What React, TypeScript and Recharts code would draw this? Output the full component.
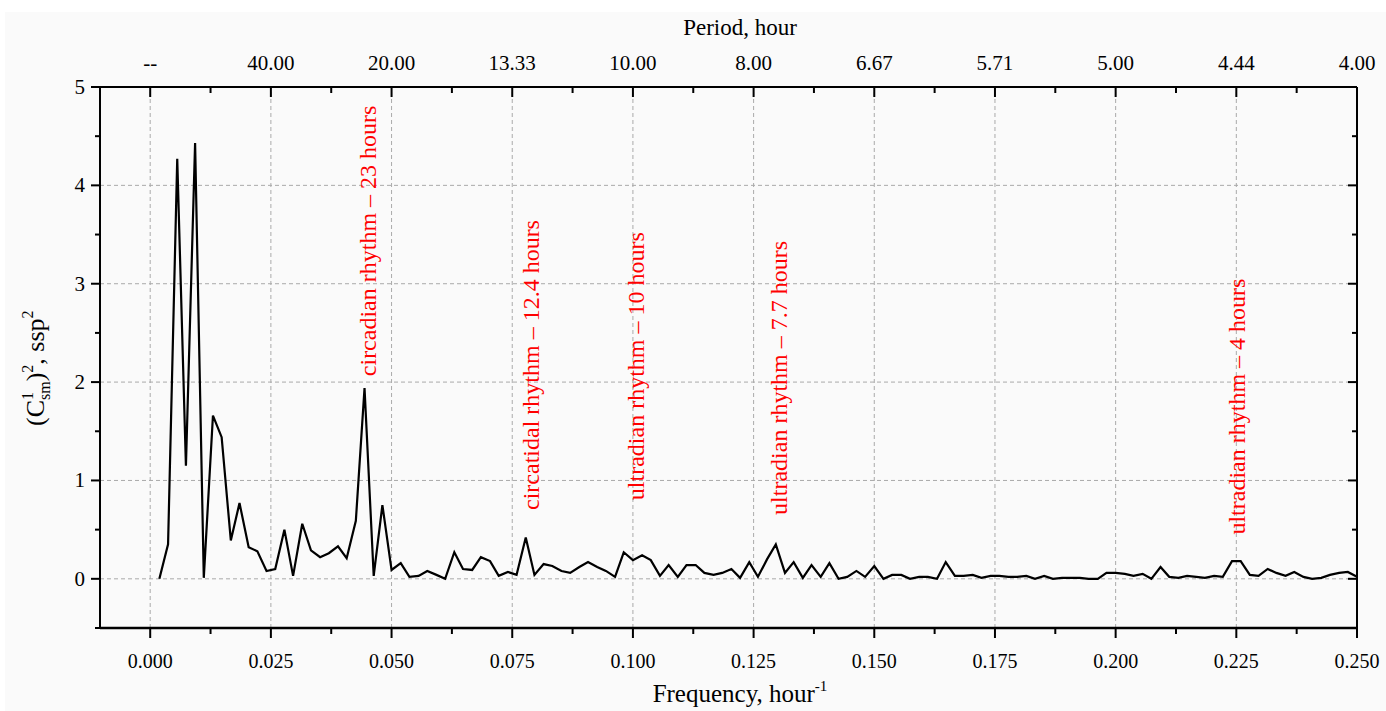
import {
  LineChart,
  Line,
  XAxis,
  YAxis,
  ReferenceLine,
  ReferenceDot,
} from "recharts";

const FONT = "'Liberation Serif', 'Times New Roman', serif";

// frequency, hour^-1 (sample grid of the spectrum)
const freq = [
  0.0019, 0.0037, 0.0056, 0.0074, 0.0093, 0.0111, 0.013, 0.0148, 0.0167, 0.0185,
  0.0204, 0.0222, 0.0241, 0.0259, 0.0278, 0.0296, 0.0315, 0.0333, 0.0352, 0.037,
  0.0389, 0.0407, 0.0426, 0.0444, 0.0463, 0.0481, 0.05, 0.0519, 0.0537, 0.0556,
  0.0574, 0.0593, 0.0611, 0.063, 0.0648, 0.0667, 0.0685, 0.0704, 0.0722, 0.0741,
  0.0759, 0.0778, 0.0796, 0.0815, 0.0833, 0.0852, 0.087, 0.0889, 0.0907, 0.0926,
  0.0944, 0.0963, 0.0981, 0.1, 0.1019, 0.1037, 0.1056, 0.1074, 0.1093, 0.1111,
  0.113, 0.1148, 0.1167, 0.1185, 0.1204, 0.1222, 0.1241, 0.1259, 0.1278, 0.1296,
  0.1315, 0.1333, 0.1352, 0.137, 0.1389, 0.1407, 0.1426, 0.1444, 0.1463, 0.1481,
  0.15, 0.1519, 0.1537, 0.1556, 0.1574, 0.1593, 0.1611, 0.163, 0.1648, 0.1667,
  0.1685, 0.1704, 0.1722, 0.1741, 0.1759, 0.1778, 0.1796, 0.1815, 0.1833, 0.1852,
  0.187, 0.1889, 0.1907, 0.1926, 0.1944, 0.1963, 0.1981, 0.2, 0.2019, 0.2037,
  0.2056, 0.2074, 0.2093, 0.2111, 0.213, 0.2148, 0.2167, 0.2185, 0.2204, 0.2222,
  0.2241, 0.2259, 0.2278, 0.2296, 0.2315, 0.2333, 0.2352, 0.237, 0.2389, 0.2407,
  0.2426, 0.2444, 0.2463, 0.2481, 0.25,
];

// (C1sm)^2, ssp^2
const power = [
  0.0, 0.35, 4.27, 1.15, 4.43, 0.01, 1.66, 1.44, 0.39, 0.77,
  0.32, 0.28, 0.08, 0.1, 0.5, 0.03, 0.56, 0.29, 0.22, 0.26,
  0.33, 0.21, 0.59, 1.94, 0.03, 0.75, 0.09, 0.16, 0.02, 0.03,
  0.08, 0.04, 0.0, 0.27, 0.1, 0.09, 0.22, 0.18, 0.03, 0.07,
  0.04, 0.42, 0.04, 0.15, 0.13, 0.08, 0.06, 0.12, 0.17, 0.12,
  0.08, 0.02, 0.27, 0.19, 0.24, 0.19, 0.03, 0.14, 0.02, 0.14,
  0.14, 0.06, 0.04, 0.06, 0.1, 0.01, 0.17, 0.02, 0.2, 0.35,
  0.06, 0.17, 0.01, 0.14, 0.02, 0.16, 0.0, 0.02, 0.08, 0.02,
  0.13, 0.0, 0.04, 0.04, 0.0, 0.02, 0.02, 0.0, 0.17, 0.03,
  0.03, 0.04, 0.01, 0.03, 0.03, 0.02, 0.02, 0.03, 0.0, 0.03,
  0.0, 0.01, 0.01, 0.01, 0.0, 0.0, 0.06, 0.06, 0.05, 0.03,
  0.05, 0.0, 0.12, 0.02, 0.01, 0.03, 0.02, 0.01, 0.03, 0.02,
  0.18, 0.18, 0.04, 0.03, 0.1, 0.06, 0.03, 0.07, 0.02, 0.0,
  0.01, 0.04, 0.06, 0.07, 0.02,
];

const freqTicks = [0, 0.025, 0.05, 0.075, 0.1, 0.125, 0.15, 0.175, 0.2, 0.225, 0.25];
const freqMinorTicks = [0.0125, 0.0375, 0.0625, 0.0875, 0.1125, 0.1375, 0.1625, 0.1875, 0.2125, 0.2375];
const periodLabels = ["--", "40.00", "20.00", "13.33", "10.00", "8.00", "6.67", "5.71", "5.00", "4.44", "4.00"];
const powerTicks = [0, 1, 2, 3, 4, 5];
const powerMinorTicks = [-0.5, 0.5, 1.5, 2.5, 3.5, 4.5];

const noteText = [
  "circadian rhythm \u2013 23 hours",
  "circatidal rhythm \u2013 12.4 hours",
  "ultradian rhythm \u2013 10 hours",
  "ultradian rhythm \u2013 7.7 hours",
  "ultradian rhythm \u2013 4 hours",
];
const noteFreq = [0.0452, 0.0789, 0.1007, 0.1303, 0.2251];
const notePower = [2.06, 0.7, 0.8, 0.65, 0.45];

const data = freq.map((f, i) => ({ f, p: power[i] }));

const isMajor = (list: number[], v: number) => list.some((t) => Math.abs(t - v) < 1e-9);

function BottomTick(props: any) {
  const { x, y, payload } = props;
  const major = isMajor(freqTicks, payload.value);
  return (
    <g>
      <line x1={x} y1={y} x2={x} y2={y + (major ? 10 : 6)} stroke="#000" strokeWidth={2} />
      {major && (
        <text x={x} y={y + 40} textAnchor="middle" fontSize={20} fontFamily={FONT} fill="#000">
          {payload.value.toFixed(3)}
        </text>
      )}
    </g>
  );
}

function TopTick(props: any) {
  const { x, y, payload } = props;
  const idx = freqTicks.findIndex((t) => Math.abs(t - payload.value) < 1e-9);
  return (
    <g>
      <line x1={x} y1={y} x2={x} y2={y + (idx >= 0 ? 10 : 6)} stroke="#000" strokeWidth={2} />
      {idx >= 0 && (
        <text x={x} y={y - 17} textAnchor="middle" fontSize={21} fontFamily={FONT} fill="#000">
          {periodLabels[idx]}
        </text>
      )}
    </g>
  );
}

function LeftTick(props: any) {
  const { x, y, payload } = props;
  const major = isMajor(powerTicks, payload.value);
  return (
    <g>
      <line x1={x} y1={y} x2={x - (major ? 9 : 5)} y2={y} stroke="#000" strokeWidth={2} />
      {major && (
        <text x={x - 15} y={y + 7} textAnchor="end" fontSize={21} fontFamily={FONT} fill="#000">
          {payload.value}
        </text>
      )}
    </g>
  );
}

function RightTick(props: any) {
  const { x, y, payload } = props;
  const major = isMajor(powerTicks, payload.value);
  return <line x1={x} y1={y} x2={x - (major ? 9 : 5)} y2={y} stroke="#000" strokeWidth={2} />;
}

function NoteShape(text: string) {
  return (p: any) => (
    <text
      x={p.cx}
      y={p.cy}
      transform={`rotate(-90 ${p.cx} ${p.cy})`}
      textAnchor="start"
      dominantBaseline="central"
      fontSize={24}
      fontFamily={FONT}
      fill="#ff0000"
    >
      {text}
    </text>
  );
}

const BottomTitle = () => (
  <text x={740} y={702} textAnchor="middle" fontSize={25} fontFamily={FONT} fill="#000">
    Frequency, hour
    <tspan fontSize={15} dy={-11}>-1</tspan>
  </text>
);

const TopTitle = () => (
  <text x={740} y={35} textAnchor="middle" fontSize={23} fontFamily={FONT} fill="#000">
    Period, hour
  </text>
);

function YTitle() {
  return (
    <g transform="translate(44 426) rotate(-90)">
      <text x={0} y={0} textAnchor="start" fontSize={26} fontFamily={FONT} fill="#000">
        (C
        <tspan fontSize={16} dy={-11}>1</tspan>
        <tspan fontSize={16} dx={-8} dy={17}>sm</tspan>
        <tspan dy={-6}>)</tspan>
        <tspan fontSize={16} dy={-11}>2</tspan>
        <tspan dy={11}>, ssp</tspan>
        <tspan fontSize={16} dy={-11}>2</tspan>
      </text>
    </g>
  );
}

export default function App() {
  return (
    <div style={{ position: "absolute", left: 0, top: 0, width: 1386, height: 711, background: "#fff" }}>
      <div
        style={{ position: "absolute", left: 5, top: 12, width: 1381, height: 699, background: "#fafafa" }}
      />
      <div style={{ position: "absolute", left: 0, top: 0 }}>
        <LineChart
          width={1386}
          height={711}
          data={data}
          margin={{ top: 27, right: 9, left: 40, bottom: 23 }}
        >
          <XAxis
            xAxisId="bottom"
            dataKey="f"
            type="number"
            domain={[-0.0104, 0.25]}
            allowDataOverflow
            ticks={[...freqTicks, ...freqMinorTicks]}
            interval={0}
            height={60}
            tickSize={0}
            tickMargin={0}
            tickLine={false}
            axisLine={{ stroke: "#000", strokeWidth: 2.5 }}
            tick={<BottomTick />}
            label={<BottomTitle />}
          />
          <XAxis
            xAxisId="top"
            orientation="top"
            dataKey="f"
            type="number"
            domain={[-0.0104, 0.25]}
            allowDataOverflow
            ticks={[...freqTicks, ...freqMinorTicks]}
            interval={0}
            height={60}
            tickSize={0}
            tickMargin={0}
            tickLine={false}
            axisLine={{ stroke: "#000", strokeWidth: 2 }}
            tick={<TopTick />}
            label={<TopTitle />}
          />
          <YAxis
            yAxisId="left"
            type="number"
            domain={[-0.5, 5]}
            allowDataOverflow
            ticks={[...powerTicks, ...powerMinorTicks]}
            interval={0}
            width={60}
            tickSize={0}
            tickMargin={0}
            tickLine={false}
            axisLine={{ stroke: "#000", strokeWidth: 2 }}
            tick={<LeftTick />}
            label={<YTitle />}
          />
          <YAxis
            yAxisId="right"
            orientation="right"
            type="number"
            domain={[-0.5, 5]}
            allowDataOverflow
            ticks={[...powerTicks, ...powerMinorTicks]}
            interval={0}
            width={20}
            tickSize={0}
            tickMargin={0}
            tickLine={false}
            axisLine={{ stroke: "#000", strokeWidth: 2 }}
            tick={<RightTick />}
          />
          {freqTicks.slice(0, -1).map((t) => (
            <ReferenceLine
              key={`gx${t}`}
              xAxisId="bottom"
              yAxisId="left"
              x={t}
              stroke="#aaaaaa"
              strokeDasharray="4 3"
              strokeWidth={1}
            />
          ))}
          {powerTicks.slice(0, -1).map((t) => (
            <ReferenceLine
              key={`gy${t}`}
              xAxisId="bottom"
              yAxisId="left"
              y={t}
              stroke="#aaaaaa"
              strokeDasharray="4 3"
              strokeWidth={1}
            />
          ))}
          <Line
            xAxisId="bottom"
            yAxisId="left"
            type="linear"
            dataKey="p"
            stroke="#000"
            strokeWidth={2.2}
            dot={false}
            activeDot={false}
            isAnimationActive={false}
          />
          {noteText.map((t, i) => (
            <ReferenceDot
              key={t}
              xAxisId="bottom"
              yAxisId="left"
              x={noteFreq[i]}
              y={notePower[i]}
              r={1}
              ifOverflow="visible"
              shape={NoteShape(t)}
            />
          ))}
        </LineChart>
      </div>
    </div>
  );
}
